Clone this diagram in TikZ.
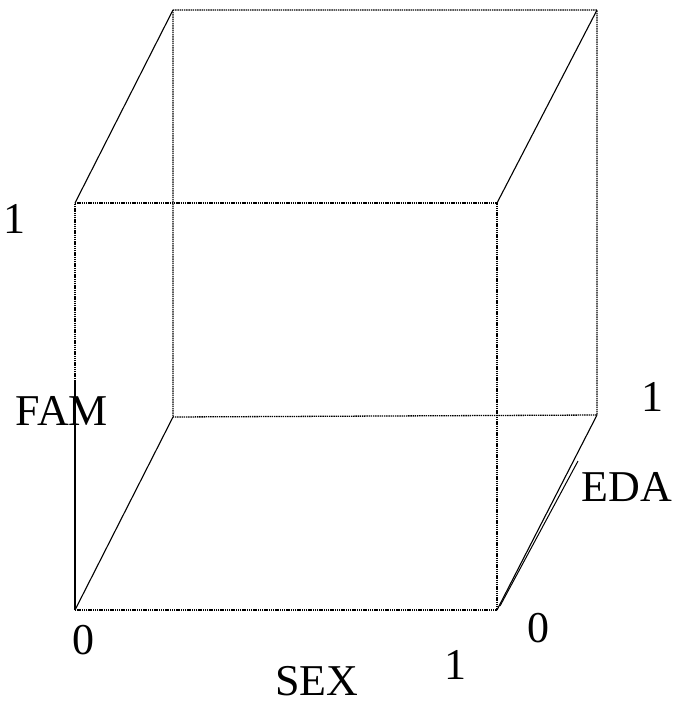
\documentclass[tikz,border=0pt]{standalone}
\usepackage{fontspec}
\setmainfont{Liberation Serif}
\begin{document}
\begin{tikzpicture}[x=1pt,y=-1pt,
  edgedot/.style={line width=1.3pt, dash pattern=on 1.4pt off 0.8pt},
  edgesolid/.style={line width=1.1pt},
  axisline/.style={line width=1.3pt},
  lbl/.style={font=\fontsize{44}{44}\selectfont, inner sep=0pt, anchor=center}]
\useasboundingbox (0,0) rectangle (675,706);
% cube corners
\coordinate (fbl) at (75,610);
\coordinate (fbr) at (497,610);
\coordinate (ftl) at (75,203);
\coordinate (ftr) at (497,203);
\coordinate (bbl) at (173,417);
\coordinate (bbr) at (597,415);
\coordinate (btl) at (173,10);
\coordinate (btr) at (597,10);
% dotted edges
\draw[edgedot] (ftl) -- (ftr) -- (fbr) -- (fbl);
\draw[edgedot] (fbl) -- (ftl);
\draw[edgedot] (btl) -- (btr) -- (bbr) -- (bbl) -- cycle;
% diagonal edges
\draw[edgesolid] (ftl) -- (btl);
\draw[edgesolid] (ftr) -- (btr);
\draw[edgesolid] (fbl) -- (bbl);
\draw[edgesolid] (fbr) -- (bbr);
% axes
\coordinate (famtop) at (75,380);
\draw[axisline] (fbl) -- (famtop);
\coordinate (edab) at (500,606);
\coordinate (edat) at (578,461);
\draw[line width=1pt] (edab) -- (edat);
% labels
\node[lbl] (one1) at (14,219) {1};
\node[lbl] (fam) at (62,411) {FAM};
\node[lbl] (zero1) at (83,640) {0};
\node[lbl] (sex) at (317,681) {SEX};
\node[lbl] (one2) at (455,665) {1};
\node[lbl] (zero2) at (538,628) {0};
\node[lbl] (eda) at (627,487) {EDA};
\node[lbl] (one3) at (652,397) {1};
\end{tikzpicture}
\end{document}
